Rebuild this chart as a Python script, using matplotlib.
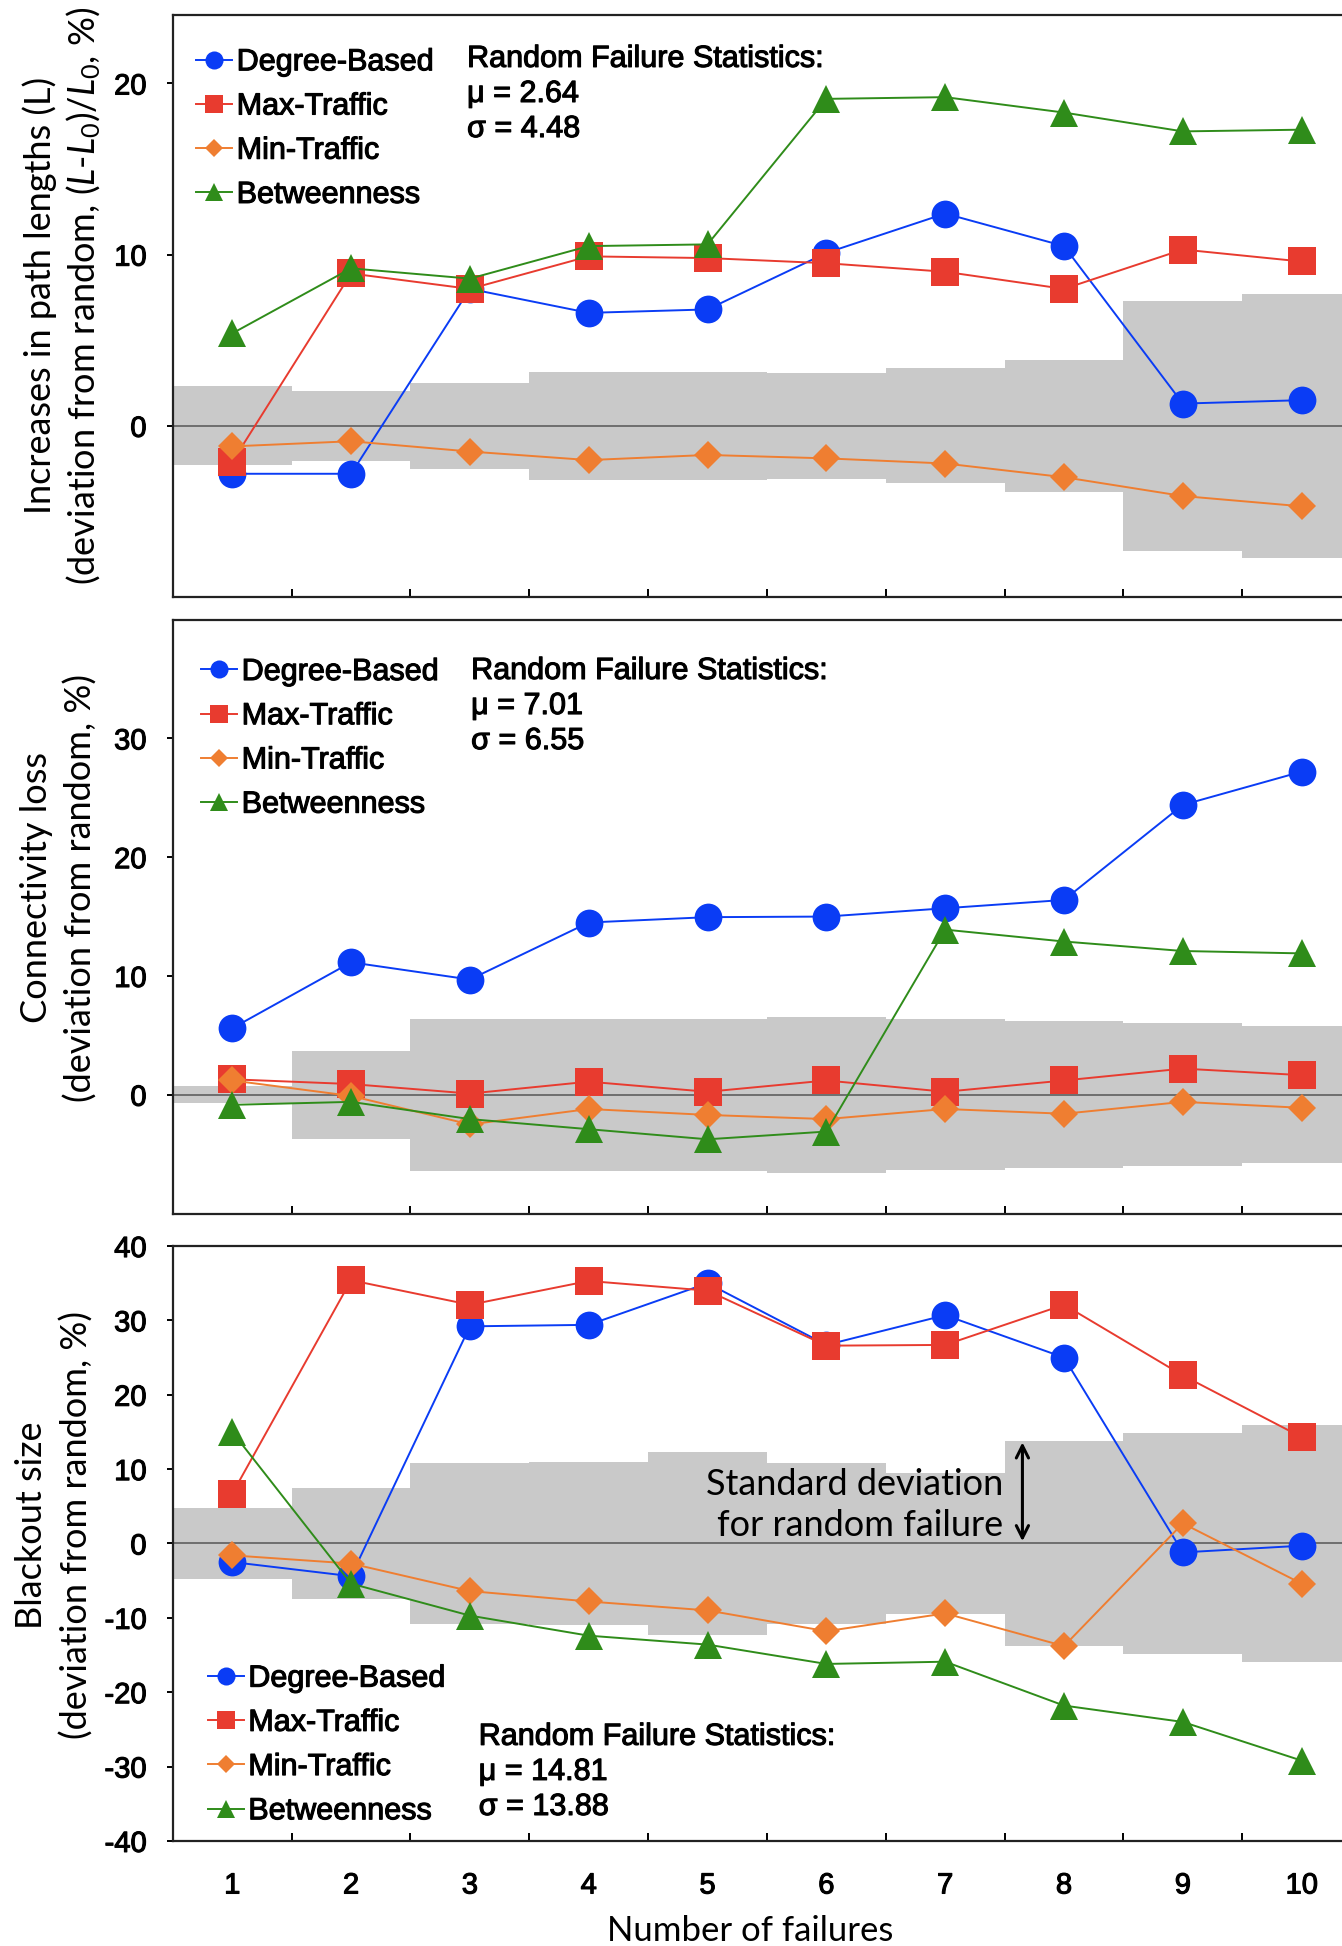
import matplotlib
matplotlib.use("Agg")
import matplotlib.pyplot as plt
import matplotlib.patheffects as pe

# x axis: number of failures
failures = [1, 2, 3, 4, 5, 6, 7, 8, 9, 10]
series_names = ["Degree-Based", "Max-Traffic", "Min-Traffic", "Betweenness"]

# panel 1 - increase in path lengths (deviation from random, %)
path_degree = [-2.8, -2.8, 8.0, 6.6, 6.8, 10.1, 12.4, 10.5, 1.3, 1.5]
path_max = [-2.1, 8.9, 8.0, 9.9, 9.8, 9.5, 9.0, 8.0, 10.3, 9.6]
path_min = [-1.2, -0.9, -1.5, -2.0, -1.7, -1.9, -2.2, -3.0, -4.1, -4.7]
path_betw = [5.4, 9.2, 8.6, 10.5, 10.6, 19.1, 19.2, 18.3, 17.2, 17.3]
path_std = [2.3, 2.05, 2.5, 3.15, 3.15, 3.1, 3.35, 3.85, 7.3, 7.7]

# panel 2 - connectivity loss
conn_degree = [5.6, 11.15, 9.7, 14.5, 14.95, 15.0, 15.7, 16.4, 24.4, 27.2]
conn_max = [1.3, 0.9, 0.1, 1.1, 0.25, 1.2, 0.25, 1.2, 2.2, 1.65]
conn_min = [1.2, -0.1, -2.5, -1.2, -1.7, -2.05, -1.2, -1.6, -0.6, -1.1]
conn_betw = [-0.85, -0.6, -2.05, -2.9, -3.75, -3.1, 13.9, 12.9, 12.1, 11.9]
conn_std = [0.7, 3.7, 6.4, 6.4, 6.4, 6.55, 6.35, 6.2, 6.0, 5.75]

# panel 3 - blackout size
black_degree = [-2.5, -4.4, 29.2, 29.4, 35.0, 26.7, 30.7, 25.0, -1.2, -0.3]
black_max = [6.7, 35.4, 32.1, 35.3, 34.0, 26.6, 26.7, 32.1, 22.6, 14.3]
black_min = [-1.6, -2.7, -6.4, -7.8, -9.0, -11.8, -9.4, -13.8, 2.7, -5.4]
black_betw = [15.0, -5.4, -9.7, -12.4, -13.6, -16.2, -15.9, -21.8, -24.0, -29.2]
black_std = [4.8, 7.45, 10.8, 10.9, 12.35, 10.8, 9.5, 13.75, 14.85, 15.9]

stats_path = "Random Failure Statistics:\nμ = 2.64\nσ = 4.48"
stats_conn = "Random Failure Statistics:\nμ = 7.01\nσ = 6.55"
stats_black = "Random Failure Statistics:\nμ = 14.81\nσ = 13.88"

colors = ["#0a3cf5", "#e83b2f", "#ef7e31", "#2f8c1a"]
markers = ["o", "s", "D", "^"]
msizes = [20, 20, 14, 20]

plt.rcParams["font.family"] = ["Liberation Sans", "DejaVu Sans"]
plt.rcParams["mathtext.fontset"] = "custom"
plt.rcParams["mathtext.rm"] = "Lato"
plt.rcParams["mathtext.it"] = "Lato:italic"

LABEL_FONT = ["Lato", "DejaVu Sans"]
TICK_SIZE = 21
LEG_SIZE = 22
# the original Arial text is rendered a bit heavier than plain regular
heavy = [pe.withStroke(linewidth=0.8, foreground="black")]

fig = plt.figure(figsize=(13.42, 19.46), dpi=100)

ax_w = 0.8854
ax1 = fig.add_axes([0.1288, 0.6932, ax_w, 0.2991])
ax2 = fig.add_axes([0.1288, 0.3764, ax_w, 0.3052])
ax3 = fig.add_axes([0.1288, 0.0540, ax_w, 0.3057])


def draw_panel(ax, values, std, ylim, yticks, leg_anchor, stats, stats_pos):
    # grey band = +/- std of random failure, one block per failure count
    ax.bar(failures, [2 * s for s in std], bottom=[-s for s in std], width=1.0,
           color="#c9c9c9", linewidth=0, zorder=1)
    ax.axhline(0, color="#555555", lw=1.1, zorder=2)
    for vals, name, c, m, ms in zip(values, series_names, colors, markers, msizes):
        ax.plot(failures, vals, color=c, lw=1.4, marker=m, ms=ms, mec=c, mew=0,
                label=name, zorder=3)
    ax.set_xlim(0.5, 10.5)
    ax.set_ylim(*ylim)
    ax.set_yticks(yticks)
    ax.set_yticklabels([str(t) for t in yticks], fontsize=TICK_SIZE)
    ax.set_xticks(failures)
    ax.set_xticks([x + 0.5 for x in failures[:-1]], minor=True)
    ax.tick_params(axis="y", direction="out", length=4, width=1.4, pad=15)
    ax.tick_params(axis="x", which="major", length=0, pad=22, labelsize=TICK_SIZE)
    ax.tick_params(axis="x", which="minor", direction="in", length=6, width=1.4)
    for sp in ax.spines.values():
        sp.set_linewidth(1.6)
        sp.set_color("#222222")
    leg = ax.legend(loc="upper left", bbox_to_anchor=leg_anchor, frameon=False,
                    fontsize=LEG_SIZE, borderpad=0, borderaxespad=0,
                    handlelength=1.18, handletextpad=0.15, labelspacing=0.465,
                    markerscale=0.65)
    for t in leg.get_texts():
        t.set_path_effects(heavy)
    st = ax.text(stats_pos[0], stats_pos[1], stats, transform=ax.transAxes,
                 fontsize=LEG_SIZE, ha="left", va="center", linespacing=1.22)
    st.set_path_effects(heavy)
    return leg


draw_panel(ax1, [path_degree, path_max, path_min, path_betw], path_std,
           (-10, 24), [0, 10, 20], (0.0195, 0.9445), stats_path, (0.2476, 0.8643))
ax1.set_xticklabels([])

draw_panel(ax2, [conn_degree, conn_max, conn_min, conn_betw], conn_std,
           (-10, 40), [0, 10, 20, 30], (0.0237, 0.937), stats_conn, (0.251, 0.8545))
ax2.set_xticklabels([])

draw_panel(ax3, [black_degree, black_max, black_min, black_betw], black_std,
           (-40, 40), list(range(-40, 41, 10)), (0.0293, 0.298), stats_black, (0.2574, 0.116))
ax3.set_xticklabels([str(x) for x in failures])

for ax in (ax1, ax2, ax3):
    for lab in ax.get_yticklabels() + ax.get_xticklabels():
        lab.set_path_effects(heavy)

# note on the grey band
ax3.text(7.49, 5.2, "Standard deviation\nfor random failure", family=LABEL_FONT,
         fontsize=26, ha="right", va="center", multialignment="right",
         linespacing=1.3, zorder=4)
ax3.annotate("", xy=(7.65, 0.3), xytext=(7.65, 13.6),
             arrowprops=dict(arrowstyle="<->", lw=2.2, color="black",
                             mutation_scale=22, shrinkA=0, shrinkB=0), zorder=4)

# axis titles
fig.text(0.0465, 0.8481,
         "Increases in path lengths (L)\n(deviation from random, ($L$-$L_0$)/$L_0$, %)",
         family=LABEL_FONT, fontsize=26, rotation=90, ha="center", va="center",
         multialignment="center", linespacing=1.25)
fig.text(0.0435, 0.5437, "Connectivity loss\n(deviation from random, %)",
         family=LABEL_FONT, fontsize=26, rotation=90, ha="center", va="center",
         multialignment="center", linespacing=1.38)
fig.text(0.0405, 0.2163, "Blackout size\n(deviation from random, %)",
         family=LABEL_FONT, fontsize=26, rotation=90, ha="center", va="center",
         multialignment="center", linespacing=1.38)
fig.text(0.5589, 1 - 1941 / 1946, "Number of failures", family=LABEL_FONT,
         fontsize=25, ha="center", va="baseline")

fig.savefig("out.png", dpi=100)
